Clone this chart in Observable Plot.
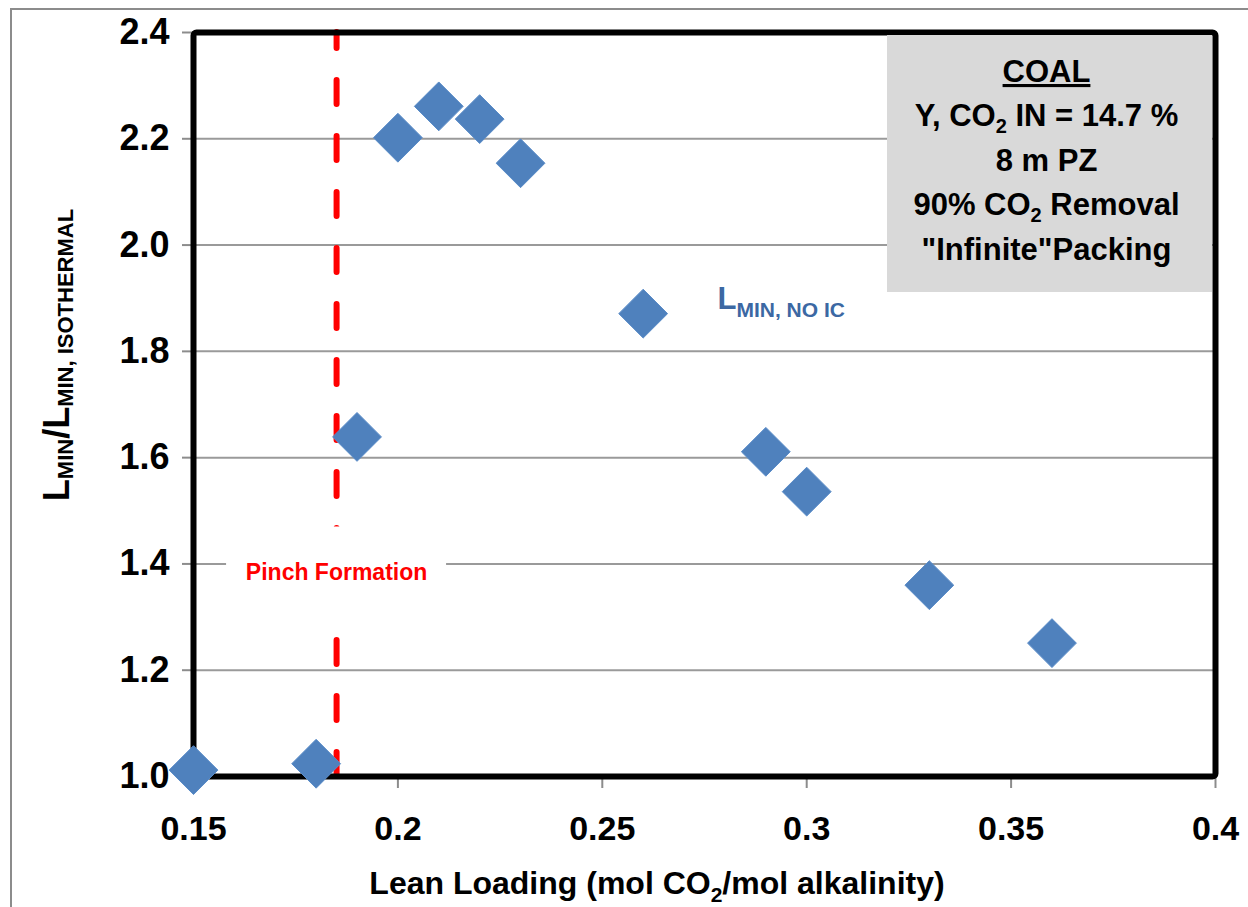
<!DOCTYPE html>
<html>
<head>
<meta charset="utf-8">
<script src="https://cdn.jsdelivr.net/npm/d3@7"></script>
<script src="https://cdn.jsdelivr.net/npm/@observablehq/plot@0.6"></script>
<style>
  html, body { margin: 0; padding: 0; background: #fff; }
  #chart { position: relative; width: 1248px; height: 907px; overflow: hidden; }
  #border { position: absolute; left: 10px; top: 8px; width: 1400px; height: 1100px;
            border-left: 2px solid #8c8c8c; border-top: 2px solid #8c8c8c; }
  #chart svg { position: absolute; left: 0; top: 0; }
</style>
</head>
<body>
<div id="chart"><div id="border"></div></div>
<script>
// ---- data ----
const leanLoading = [0.15, 0.18, 0.19, 0.20, 0.21, 0.22, 0.23, 0.26, 0.29, 0.30, 0.33, 0.36];
const lMinRatio   = [1.012, 1.024, 1.639, 2.202, 2.261, 2.237, 2.154, 1.871, 1.611, 1.536, 1.360, 1.251];
const xTicks      = [0.15, 0.20, 0.25, 0.30, 0.35, 0.40];
const xTickLabels = ["0.15", "0.2", "0.25", "0.3", "0.35", "0.4"];
const yTicks      = [1.0, 1.2, 1.4, 1.6, 1.8, 2.0, 2.2, 2.4];
const yTickLabels = ["1.0", "1.2", "1.4", "1.6", "1.8", "2.0", "2.2", "2.4"];
const pinchLoading = 0.185;
const pinchLabel   = "Pinch Formation";
const pinchLabelY  = 1.383;
const seriesLabelX = 0.2783;
const seriesLabelY = 1.878;
const boxLines = [
  [["COAL", false]],
  [["Y, CO", false], ["2", true], [" IN = 14.7 %", false]],
  [["8 m PZ", false]],
  [["90% CO", false], ["2", true], [" Removal", false]],
  [["\"Infinite\"Packing", false]]
];
const xTitleParts = [["Lean Loading (mol CO", false], ["2", true], ["/mol alkalinity)", false]];
const yTitleParts = [["L", false], ["MIN", true], ["/L", false], ["MIN, ISOTHERMAL", true]];
const seriesLabelParts = [["L", false], ["MIN, NO IC", true]];

const FONT = "'Liberation Sans', Arial, Helvetica, sans-serif";
const points = leanLoading.map((x, i) => ({x, y: lMinRatio[i]}));

// white box behind the "Pinch Formation" label (render-function mark)
function pinchBox(index, scales, values, dimensions) {
  const g = d3.create("svg:g");
  const cx = scales.x(pinchLoading), cy = scales.y(pinchLabelY);
  g.append("rect").attr("x", cx - 110).attr("y", cy - 46).attr("width", 220).attr("height", 110).attr("fill", "white");
  return g.node();
}

const plot = Plot.plot({
  width: 1248,
  height: 907,
  marginLeft: 193,
  marginRight: 33,
  marginTop: 32,
  marginBottom: 131,
  x: {domain: [0.15, 0.40]},
  y: {domain: [1.0, 2.4]},
  style: {fontFamily: FONT, background: "transparent", overflow: "visible"},
  marks: [
    Plot.gridY(yTicks, {stroke: "#9a9a9a", strokeOpacity: 1, strokeWidth: 2}),
    Plot.ruleX([pinchLoading], {stroke: "#ff0000", strokeWidth: 6, strokeDasharray: "24,32", strokeDashoffset: 8, strokeLinecap: "round"}),
    pinchBox,
    Plot.text([pinchLabel], {x: () => pinchLoading, y: () => pinchLabelY, text: d => d, fill: "#ff0000", fontSize: 23, fontWeight: "bold", fontFamily: FONT}),
    Plot.axisY(yTicks, {tickFormat: d => yTickLabels[yTicks.indexOf(d)], tickSize: 11, tickPadding: 13, stroke: "#8c8c8c", strokeWidth: 2, fill: "black", fontSize: 36, fontWeight: "bold", label: null}),
    Plot.axisX(xTicks, {tickFormat: d => xTickLabels[xTicks.indexOf(d)], tickSize: 12, tickPadding: 27, stroke: "#8c8c8c", strokeWidth: 2, fill: "black", fontSize: 34, fontWeight: "bold", label: null}),
    Plot.frame({stroke: "black", strokeWidth: 6, rx: 3}),
    Plot.dot(points, {x: "x", y: "y", symbol: "diamond2", r: 22, fill: "#4f81bd", stroke: "#5a8cc8", strokeWidth: 1})
  ]
});

document.getElementById("chart").appendChild(plot);

// ---- rich-text annotations using the plot's own scales ----
const xs = plot.scale("x"), ys = plot.scale("y");
const X = d3.scaleLinear(xs.domain, xs.range);
const Y = d3.scaleLinear(ys.domain, ys.range);
const svg = d3.select(plot);

function richText(parent, parts, {x, y, size, subSize, shift, anchor = "middle", fill = "black", transform}) {
  const t = parent.append("text")
    .attr("x", x).attr("y", y)
    .attr("text-anchor", anchor)
    .attr("font-family", FONT)
    .attr("font-weight", "bold")
    .attr("fill", fill);
  if (transform) t.attr("transform", transform);
  let cur = 0;
  parts.forEach(([s, sub]) => {
    const target = sub ? shift : 0;
    t.append("tspan")
      .attr("font-size", sub ? subSize : size)
      .attr("dy", target - cur)
      .text(s);
    cur = target;
  });
  return t;
}

// text box (top right)
const boxRight = X(0.40) - 3, boxTop = Y(2.4) + 3;
const boxW = 325, boxH = 257;
const box = svg.append("g");
box.append("rect").attr("x", boxRight - boxW).attr("y", boxTop).attr("width", boxW).attr("height", boxH).attr("fill", "#d9d9d9");
const boxCx = boxRight - boxW / 2 - 3;
boxLines.forEach((parts, i) => {
  const t = richText(box, parts, {x: boxCx, y: boxTop + 47 + i * 44.4, size: 31, subSize: 20, shift: 7});
  if (i === 0) t.attr("text-decoration", "underline");
});

// series label
richText(svg, seriesLabelParts, {x: X(seriesLabelX), y: Y(seriesLabelY), size: 31, subSize: 21, shift: 8, anchor: "start", fill: "#3c68a3"});

// x axis title
richText(svg, xTitleParts, {x: 657, y: 894, size: 32, subSize: 21, shift: 8});

// y axis title (rotated)
richText(svg, yTitleParts, {x: 0, y: 0, size: 36, subSize: 22, shift: 4, transform: "translate(69,355) rotate(-90)"});
</script>
</body>
</html>
